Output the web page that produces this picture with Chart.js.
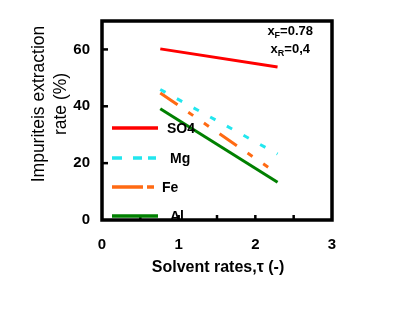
<!DOCTYPE html>
<html>
<head>
<meta charset="utf-8">
<script src="https://cdn.jsdelivr.net/npm/chart.js@4/dist/chart.umd.min.js"></script>
<style>
html,body{margin:0;padding:0;background:#fff;}
canvas{display:block;}
</style>
</head>
<body>
<canvas id="c" width="394" height="310"></canvas>
<script>
// ---- data ----
const seriesNames = ["SO4", "Mg", "Fe", "Al"];
const tauSO4 = [0.76, 2.29];
const so4 = [60.2, 53.8];
const tauMg = [0.76, 2.29];
const mg = [45.9, 23.2];
const tauFe = [0.76, 2.17];
const fe = [44.7, 18.5];
const tauAl = [0.76, 2.29];
const al = [39.1, 13.3];
const yTicks = [0, 20, 40, 60];
const xTicks = [0, 1, 2, 3];
const xMinorTicks = [0.5, 1, 1.5, 2, 2.5];
const xTitle = "Solvent rates,\u03c4 (-)";
const yTitleLines = ["Impuriteis extraction", "rate (%)"];

function pts(xs, ys){ return xs.map((x,i)=>({x:x, y:ys[i]})); }

const styles = [
  {color:"#ff0000", dash:[], legendDash:[]},
  {color:"#22e6ee", dash:[6,13], legendDash:[10,11,9,6,8]},
  {color:"#ff6a13", dash:[21,13,6,13,6,13], legendDash:[31,4,7]},
  {color:"#008000", dash:[], legendDash:[]}
];
const seriesData = [pts(tauSO4,so4), pts(tauMg,mg), pts(tauFe,fe), pts(tauAl,al)];

const datasets = seriesNames.map((n,i)=>({
  label:n, data:seriesData[i], borderColor:styles[i].color, backgroundColor:styles[i].color,
  borderWidth:3, borderDash:styles[i].dash, pointRadius:0, fill:false, tension:0, borderCapStyle:'butt'
}));

const FONT = "'Liberation Sans', Arial, sans-serif";
const decor = {
  id:'decor',
  afterDraw(chart){
    const {ctx, chartArea:a, scales:{x,y}} = chart;
    ctx.save();
    // frame
    ctx.strokeStyle="#000"; ctx.lineWidth=3.5;
    ctx.strokeRect(a.left, a.top, a.right-a.left, a.bottom-a.top);
    // inward ticks
    ctx.lineWidth=2.5;
    xMinorTicks.forEach(v=>{ const px=x.getPixelForValue(v); ctx.beginPath(); ctx.moveTo(px,a.bottom); ctx.lineTo(px,a.bottom-5); ctx.stroke(); });
    yTicks.slice(1).forEach(v=>{ const py=y.getPixelForValue(v); ctx.beginPath(); ctx.moveTo(a.left,py); ctx.lineTo(a.left+6,py); ctx.stroke(); });
    // legend
    const ly=[128,158,187,216];
    seriesNames.forEach((n,i)=>{
      ctx.strokeStyle=styles[i].color; ctx.lineWidth=3.5; ctx.setLineDash(styles[i].legendDash);
      ctx.beginPath(); ctx.moveTo(112,ly[i]); ctx.lineTo(158,ly[i]); ctx.stroke();
      ctx.setLineDash([]);
      ctx.fillStyle="#000"; ctx.font="bold 14px "+FONT;
      ctx.textAlign="left"; ctx.textBaseline="middle";
      ctx.fillText(n, [167,170,162,170][i], ly[i]+1);
    });
    // annotation
    ctx.fillStyle="#000"; ctx.textBaseline="alphabetic"; ctx.textAlign="left";
    function sub(main, s, rest, xr, yb){
      ctx.font="bold 13px "+FONT;
      const w1=ctx.measureText(main).width;
      ctx.font="bold 9px "+FONT;
      const w2=ctx.measureText(s).width;
      ctx.font="bold 13px "+FONT;
      const w3=ctx.measureText(rest).width;
      let x0=xr-(w1+w2+w3);
      ctx.fillText(main,x0,yb);
      ctx.font="bold 9px "+FONT;
      ctx.fillText(s,x0+w1,yb+3);
      ctx.font="bold 13px "+FONT;
      ctx.fillText(rest,x0+w1+w2,yb);
    }
    sub("x","F","=0.78",313,35);
    sub("x","R","=0,4",310,53);
    // titles
    ctx.font="bold 16px "+FONT;
    ctx.textAlign="center"; ctx.textBaseline="middle";
    ctx.fillText(xTitle, 218, 268);
    ctx.font="17.5px "+FONT;
    ctx.translate(39,104); ctx.rotate(-Math.PI/2);
    ctx.fillText(yTitleLines[0],0,0);
    ctx.fillText(yTitleLines[1],0,22);
    ctx.restore();
  }
};

new Chart(document.getElementById('c'), {
  type:'line',
  data:{datasets},
  options:{
    responsive:false, animation:false, devicePixelRatio:1,
    layout:{padding:{left:0,right:62,top:18,bottom:0}},
    plugins:{legend:{display:false}, tooltip:{enabled:false}},
    scales:{
      x:{type:'linear', min:0, max:3,
        afterBuildTicks(s){ s.ticks = xTicks.map(v=>({value:v})); },
        afterFit(s){ s.height = 90; },
        grid:{display:false, drawTicks:false}, border:{display:false},
        ticks:{padding:16, color:"#000", font:{family:FONT, size:15, weight:'bold'}}
      },
      y:{type:'linear', min:0, max:70,
        afterBuildTicks(s){ s.ticks = yTicks.map(v=>({value:v})); },
        afterFit(s){ s.width = 102; },
        grid:{display:false, drawTicks:false}, border:{display:false},
        ticks:{padding:12, color:"#000", font:{family:FONT, size:15, weight:'bold'}}
      }
    }
  },
  plugins:[decor]
});
</script>
</body>
</html>
